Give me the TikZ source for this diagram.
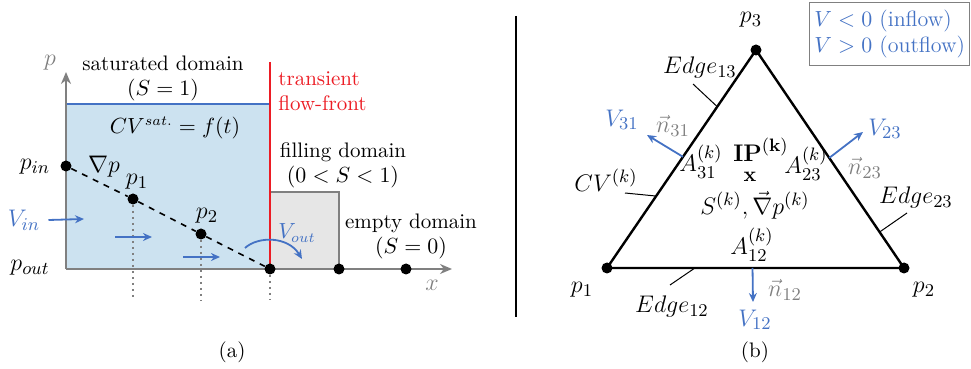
\documentclass[tikz,border=0pt]{standalone}
\usepackage{amsmath,amssymb,bm}
\usepackage{tikz}
\usetikzlibrary{arrows.meta,positioning,calc}
\definecolor{flowblue}{RGB}{68,114,196}
\definecolor{satblue}{RGB}{204,226,240}
\definecolor{fillgray}{RGB}{230,230,230}
\definecolor{axisgray}{RGB}{128,128,128}
\definecolor{frontred}{RGB}{236,28,36}

\begin{document}
\begin{tikzpicture}[x=0.5pt,y=-0.5pt,
    font=\fontsize{10.5}{12.5}\selectfont,
    dot/.style={circle,fill=black,inner sep=0pt,minimum size=5.5pt},
    lbl/.style={inner sep=1pt},
    mlbl/.style={inner sep=1pt,font=\fontsize{12.5}{14}\selectfont},
    vel/.style={-{Stealth[length=4.5pt,width=4pt]},flowblue,line width=0.9pt},
    leader/.style={line width=0.5pt}]
    \useasboundingbox (0,0) rectangle (971,369);

    % (a) 1D filling
    \fill[satblue] (66,104) rectangle (270,269);
    \draw[flowblue,line width=0.7pt] (66,104) -- (270,104);
    \filldraw[fill=fillgray,draw=axisgray,line width=0.7pt] (270,192) rectangle (339,269);
    \coordinate (O) at (66,269);
    \coordinate (ytip) at (66,72);
    \coordinate (xtip) at (452,269);
    \draw[axisgray,line width=1.3pt,-{Stealth[length=6pt,width=5pt]}] (O) -- (ytip);
    \draw[axisgray,line width=1.3pt,-{Stealth[length=6pt,width=5pt]}] (O) -- (xtip);
    \coordinate (ftop) at (270,62);
    \draw[frontred,line width=1pt] (ftop) -- (270,269);
    \node[mlbl,text=axisgray] (ylab) at (50,63) {$p$};
    \node[mlbl,text=axisgray] (xlab) at (432,285) {$x$};

    \node[dot] (pin) at (66,166) {};
    \node[dot] (p1) at (133,199) {};
    \node[dot] (p2) at (201,234) {};
    \node[dot] (front) at (270,269) {};
    \node[dot] (filled) at (339,269) {};
    \node[dot] (empty) at (406,269) {};
    \draw[dashed,line width=0.8pt] (pin) -- (p1) -- (p2) -- (front);
    \coordinate (d1) at (133,300);
    \coordinate (d2) at (201,300);
    \coordinate (d3) at (270,300);
    \draw[dotted,axisgray,line width=1pt] (p1) -- (d1);
    \draw[dotted,axisgray,line width=1pt] (p2) -- (d2);
    \draw[dotted,axisgray,line width=1pt] (front) -- (d3);

    \node[mlbl] (pinlab) at (35,167) {$p_{in}$};
    \node[mlbl] (poutlab) at (30,268) {$p_{out}$};
    \node[mlbl] (gradp) at (104,167) {$\nabla p$};
    \node[mlbl] (p1lab) at (137,182) {$p_1$};
    \node[mlbl] (p2lab) at (207,216) {$p_2$};

    \node[mlbl,text=flowblue] (vin) at (24,220) {$V_{in}$};
    \coordinate (vinend) at (84,219);
    \draw[vel] (vin.east) ++(3pt,0) coordinate (vinstart) (vinstart) -- (vinend);
    \coordinate (va1) at (115,237);
    \coordinate (vb1) at (152,237);
    \coordinate (va2) at (183,257);
    \coordinate (vb2) at (220,257);
    \draw[vel] (va1) -- (vb1);
    \draw[vel] (va2) -- (vb2);
    \coordinate (vouts) at (245,248);
    \coordinate (voute) at (302,259);
    \draw[vel] (vouts) .. controls (258,236) and (288,236) .. (voute);
    \node[lbl,text=flowblue] (vout) at (297,233) {$V_{out}$};

    \node[lbl,align=center] (satdom) at (163,78) {saturated domain\\$(S=1)$};
    \node[lbl] (cvsat) at (175,128) {$CV^{sat.}=f(t)$};
    \node[lbl,align=left,text=frontred,anchor=west] (flowfront) at (276,91) {transient\\flow-front};
    \node[lbl,align=center] (filldom) at (343,165) {filling domain\\$(0<S<1)$};
    \node[lbl,align=center] (emptydom) at (411,236) {empty domain\\$(S=0)$};
    \node[lbl] (capa) at (232,352) {(a)};

    % separator
    \coordinate (septop) at (516,16);
    \coordinate (sepbot) at (516,317);
    \draw[line width=1pt] (septop) -- (sepbot);

    % (b) triangular control volume
    \node[dot] (P1) at (607,268) {};
    \node[dot] (P2) at (904,268) {};
    \node[dot] (P3) at (756,50) {};
    \draw[line width=1.2pt] (P1.center) -- (P2.center) -- (P3.center) -- cycle;
    \node[mlbl] (P1lab) at (582,290) {$p_1$};
    \node[mlbl] (P2lab) at (924,290) {$p_2$};
    \node[mlbl] (P3lab) at (751,20) {$p_3$};

    \node[mlbl] (e13) at (700,68) {$Edge_{13}$};
    \draw[leader] (693,84) -- ($(P3)!0.26!(P1)$);
    \node[mlbl] (cvk) at (606,180) {$CV^{(k)}$};
    \draw[leader] (625,193) -- ($(P3)!0.67!(P1)$);
    \node[mlbl] (e23) at (916,198) {$Edge_{23}$};
    \draw[leader] (907,213) -- ($(P3)!0.835!(P2)$);
    \node[mlbl] (e12) at (672,307) {$Edge_{12}$};
    \draw[leader] (670,285) -- ($(P1)!0.296!(P2)$);

    \coordinate (n31s) at ($(P3)!0.49!(P1)$);
    \coordinate (n31e) at (647,135);
    \draw[vel] (n31s) -- (n31e);
    \node[mlbl,text=flowblue] (v31) at (622,120) {$V_{31}$};
    \node[mlbl,text=axisgray] (n31) at (673,126) {$\vec{n}_{31}$};
    \coordinate (n23s) at ($(P3)!0.495!(P2)$);
    \coordinate (n23e) at (863,132);
    \draw[vel] (n23s) -- (n23e);
    \node[mlbl,text=flowblue] (v23) at (885,129) {$V_{23}$};
    \node[mlbl,text=axisgray] (n23) at (865,168) {$\vec{n}_{23}$};
    \coordinate (n12s) at ($(P1)!0.49!(P2)$);
    \coordinate (n12e) at (753,302);
    \draw[vel] (n12s) -- (n12e);
    \node[mlbl,text=flowblue] (v12) at (755,320) {$V_{12}$};
    \node[mlbl,text=axisgray] (n12) at (785,290) {$\vec{n}_{12}$};

    \node[mlbl] (a31) at (701,162) {$A_{31}^{(k)}$};
    \node[mlbl] (a23) at (806,164) {$A_{23}^{(k)}$};
    \node[mlbl] (a12) at (752,245) {$A_{12}^{(k)}$};
    \node[mlbl] (ip) at (761,150) {$\mathbf{IP}^{(\mathbf{k})}$};
    \node[inner sep=0pt] (ipx) at (750,177) {\textbf{x}};
    \node[mlbl,inner sep=0pt] (state) at (755,205) {$S^{(k)},\vec{\nabla}p^{(k)}$};
    \node[lbl] (capb) at (755,352) {(b)};

    \node[draw=axisgray,line width=0.7pt,anchor=north west,minimum width=80pt,minimum height=31.5pt,
          align=left,text=flowblue,inner sep=2pt,font=\fontsize{11}{13}\selectfont] (legend) at (809,2) {$V<0$ (inflow)\\$V>0$ (outflow)};
\end{tikzpicture}
\end{document}
